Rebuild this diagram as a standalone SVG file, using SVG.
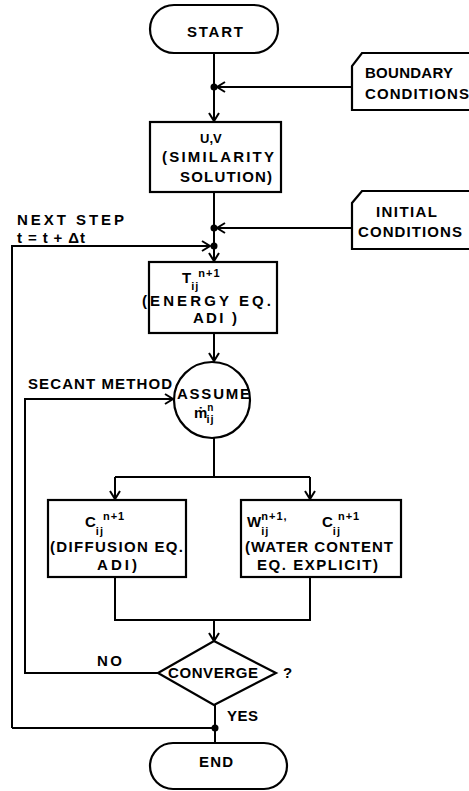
<svg xmlns="http://www.w3.org/2000/svg" width="469" height="791" viewBox="0 0 469 791">
<defs>
<marker id="ah" markerUnits="userSpaceOnUse" markerWidth="12" markerHeight="12" refX="9" refY="5" orient="auto" overflow="visible">
<path d="M1,0 L9,5 L1,10" fill="none" stroke="#000" stroke-width="2"/>
</marker>
</defs>
<style>
.s{fill:#fff;stroke:#000;stroke-width:2.2}
.l{fill:none;stroke:#000;stroke-width:2}
.t{font-family:"Liberation Sans",Arial,sans-serif;font-weight:bold;font-size:15px;fill:#000}
.sb{font-size:11px;letter-spacing:1px}
.d{fill:#000}
</style>
<rect width="469" height="791" fill="#fff"/>
<g id="connectors">
<path class="l" d="M214,53 V121" marker-end="url(#ah)"/>
<path class="l" d="M352,87 H217" marker-end="url(#ah)"/>
<path class="l" d="M214,192 V261" marker-end="url(#ah)"/>
<path class="l" d="M352,228 H217" marker-end="url(#ah)"/>
<path class="l" d="M12,728 V246 H210" marker-end="url(#ah)"/>
<path class="l" d="M214,333 V361" marker-end="url(#ah)"/>
<path class="l" d="M214,437 V477"/>
<path class="l" d="M115,477 H310"/>
<path class="l" d="M115,477 V499" marker-end="url(#ah)"/>
<path class="l" d="M310,477 V499" marker-end="url(#ah)"/>
<path class="l" d="M115,577 V620 H310 V577"/>
<path class="l" d="M214,620 V641" marker-end="url(#ah)"/>
<path class="l" d="M158,673 H25 V399 H173" marker-end="url(#ah)"/>
<path class="l" d="M215,705 V743"/>
<path class="l" d="M215,728 H12"/>
<circle class="d" cx="214" cy="87" r="3.5"/>
<circle class="d" cx="214" cy="228" r="3.5"/>
<circle class="d" cx="214" cy="246" r="3.5"/>
<circle class="d" cx="215" cy="728" r="3.5"/>
<text class="t" x="17" y="225" textLength="107" lengthAdjust="spacing">NEXT STEP</text>
<text class="t" x="17" y="243" textLength="68" lengthAdjust="spacing">t = t + Δt</text>
<text class="t" x="28" y="389" textLength="144" lengthAdjust="spacing">SECANT METHOD</text>
<text class="t" x="97" y="666" textLength="25" lengthAdjust="spacing">NO</text>
<text class="t" x="227" y="721" textLength="31" lengthAdjust="spacing">YES</text>
</g>
<g id="start">
<rect class="s" x="150" y="5" width="128" height="48" rx="24"/>
<text class="t" x="187" y="37" textLength="56" lengthAdjust="spacing">START</text>
</g>
<g id="boundary">
<path class="s" d="M472,53 H362 L352,66 V110 H472"/>
<text class="t" x="365" y="78" textLength="88" lengthAdjust="spacing">BOUNDARY</text>
<text class="t" x="365" y="99" textLength="104" lengthAdjust="spacing">CONDITIONS</text>
</g>
<g id="similarity">
<rect class="s" x="150" y="122" width="131" height="70"/>
<text class="t" x="200" y="143" style="font-size:13px">U,V</text>
<text class="t" x="162" y="162" textLength="112" lengthAdjust="spacing">(SIMILARITY</text>
<text class="t" x="180" y="182" textLength="92" lengthAdjust="spacing">SOLUTION)</text>
</g>
<g id="initial">
<path class="s" d="M472,191 H362 L352,203 V249 H472"/>
<text class="t" x="376" y="217" textLength="61" lengthAdjust="spacing">INITIAL</text>
<text class="t" x="358" y="237" textLength="104" lengthAdjust="spacing">CONDITIONS</text>
</g>
<g id="energy">
<rect class="s" x="149" y="262" width="128" height="71"/>
<text class="t" x="182" y="283">T<tspan class="sb" dy="7">ij</tspan><tspan class="sb" dx="-1" dy="-13">n+1</tspan></text>
<text class="t" x="142" y="306" textLength="129" lengthAdjust="spacing">(ENERGY EQ.</text>
<text class="t" x="193" y="323" textLength="44" lengthAdjust="spacing">ADI )</text>
</g>
<g id="assume">
<circle class="s" cx="212" cy="400" r="38"/>
<text class="t" x="177" y="399" textLength="73" lengthAdjust="spacing">ASSUME</text>
<text class="t" x="194" y="418">ṁ<tspan class="sb" dy="-7" style="font-size:10px">n</tspan><tspan class="sb" dx="-8" dy="12">ij</tspan></text>
</g>
<g id="diffusion">
<rect class="s" x="48" y="500" width="138" height="77"/>
<text class="t" x="85" y="527">C<tspan class="sb" dy="8">ij</tspan><tspan class="sb" dx="-1" dy="-15">n+1</tspan></text>
<text class="t" x="50" y="552" textLength="133" lengthAdjust="spacing">(DIFFUSION EQ.</text>
<text class="t" x="97" y="570" textLength="40" lengthAdjust="spacing">ADI)</text>
</g>
<g id="water">
<rect class="s" x="241" y="500" width="160" height="77"/>
<text class="t" x="247" y="527">W<tspan class="sb" dy="8">ij</tspan><tspan class="sb" dx="-8" dy="-15">n+1,</tspan></text>
<text class="t" x="322" y="527">C<tspan class="sb" dy="8">ij</tspan><tspan class="sb" dx="-3" dy="-15">n+1</tspan></text>
<text class="t" x="245" y="552" textLength="148" lengthAdjust="spacing">(WATER CONTENT</text>
<text class="t" x="257" y="570" textLength="121" lengthAdjust="spacing">EQ. EXPLICIT)</text>
</g>
<g id="converge">
<path class="s" d="M214,641 L276,673 L214,705 L158,673 Z"/>
<text class="t" x="168" y="678" textLength="90" lengthAdjust="spacing">CONVERGE</text>
<text class="t" x="283" y="678">?</text>
</g>
<g id="end">
<rect class="s" x="150" y="743" width="137" height="46" rx="23"/>
<text class="t" x="199" y="767" textLength="34" lengthAdjust="spacing">END</text>
</g>
</svg>
